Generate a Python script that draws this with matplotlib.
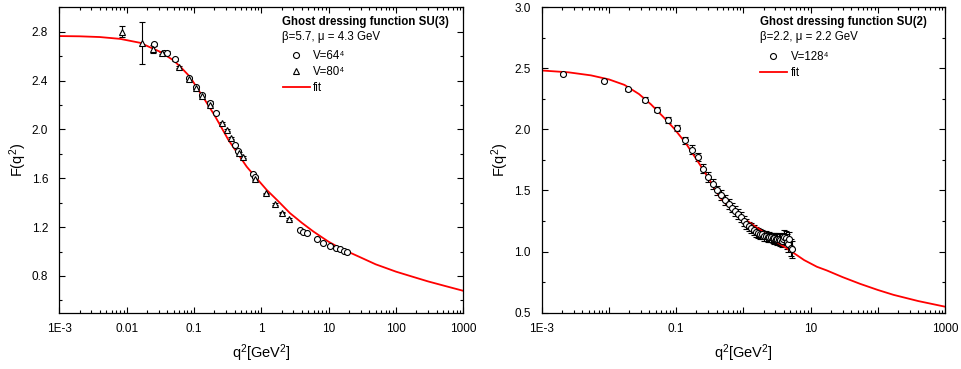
import numpy as np
import matplotlib
matplotlib.use("Agg")
from matplotlib import pyplot as plt
from matplotlib.ticker import FixedLocator, MultipleLocator, LogLocator, NullFormatter

plt.rcParams["font.family"] = ["Liberation Sans", "DejaVu Sans"]
plt.rcParams["mathtext.fontset"] = "custom"
plt.rcParams["mathtext.rm"] = "Liberation Sans"
plt.rcParams["mathtext.default"] = "regular"

# --- SU(3) data ---
su3_v80_q2 = [0.0085, 0.0168, 0.025, 0.034, 0.059, 0.083, 0.107, 0.130, 0.173,
              0.258, 0.306, 0.355, 0.47, 0.53, 0.81, 1.17, 1.6, 2.05, 2.55]
su3_v80_F = [2.80, 2.71, 2.66, 2.625, 2.51, 2.41, 2.34, 2.275, 2.20,
             2.055, 1.995, 1.927, 1.81, 1.772, 1.595, 1.478, 1.39, 1.319, 1.267]
su3_v80_err = [0.045, 0.17, 0.03, 0.01, 0.01, 0.01, 0.01, 0.01, 0.01,
               0.008, 0.008, 0.008, 0.008, 0.008, 0.008, 0.005, 0.005, 0.005, 0.005]

su3_v64_q2 = [0.0255, 0.036, 0.04, 0.052, 0.083, 0.107, 0.13, 0.173, 0.212,
              0.407, 0.45, 0.745, 0.80, 3.76, 4.2, 4.72, 6.65, 8.3, 10.5,
              12.7, 14.8, 16.9, 19.0]
su3_v64_F = [2.697, 2.63, 2.63, 2.574, 2.42, 2.345, 2.28, 2.22, 2.137,
             1.873, 1.82, 1.635, 1.61, 1.18, 1.163, 1.15, 1.10, 1.073, 1.049,
             1.032, 1.019, 1.008, 1.0]
su3_v64_err = [0.012, 0.01, 0.01, 0.01, 0.01, 0.01, 0.01, 0.01, 0.01,
               0.008, 0.008, 0.008, 0.008, 0.004, 0.004, 0.004, 0.004, 0.004, 0.004,
               0.004, 0.004, 0.004, 0.004]

su3_fit_q2 = [0.001, 0.002, 0.004, 0.008, 0.0158, 0.0315, 0.05, 0.065, 0.087, 0.11,
              0.146, 0.2, 0.25, 0.324, 0.45, 0.607, 0.85, 1.2, 1.5, 1.8, 2.67, 3.2,
              4.0, 5.93, 7.5, 10, 14, 20, 30, 50, 70, 100, 180, 300, 550, 1000]
su3_fit_F = [2.765, 2.763, 2.757, 2.742, 2.71, 2.636, 2.565, 2.505, 2.432, 2.345,
             2.24, 2.12, 2.026, 1.915, 1.80, 1.695, 1.60, 1.505, 1.453, 1.41, 1.314, 1.279,
             1.235, 1.164, 1.126, 1.08, 1.035, 0.995, 0.951, 0.895, 0.866, 0.835, 0.792,
             0.755, 0.716, 0.678]

# --- SU(2) data ---
su2_q2 = [0.0021, 0.0084, 0.019, 0.034, 0.052, 0.076, 0.103, 0.134, 0.17, 0.21,
          0.254, 0.302, 0.355, 0.41, 0.47, 0.54, 0.61, 0.68, 0.76, 0.84,
          0.93, 1.02, 1.11, 1.21, 1.31, 1.42, 1.53, 1.65, 1.77, 1.89,
          2.02, 2.15, 2.29, 2.43, 2.57, 2.72, 2.87, 3.03, 3.19, 3.36,
          3.53, 3.70, 3.88, 4.07, 4.25, 4.44, 4.64, 4.84, 5.04, 5.25]
su2_F = [2.452, 2.397, 2.328, 2.245, 2.162, 2.08, 2.012, 1.91, 1.835, 1.773,
         1.68, 1.61, 1.55, 1.50, 1.46, 1.42, 1.39, 1.36, 1.335, 1.31,
         1.28, 1.25, 1.225, 1.205, 1.19, 1.175, 1.16, 1.15, 1.145, 1.14,
         1.13, 1.125, 1.12, 1.12, 1.115, 1.11, 1.11, 1.105, 1.10, 1.10,
         1.095, 1.09, 1.10, 1.12, 1.11, 1.08, 1.06, 1.10, 1.03, 1.02]
su2_err = [0.01, 0.012, 0.015, 0.02, 0.02, 0.025, 0.025, 0.03, 0.035, 0.035,
           0.04, 0.04, 0.04, 0.04, 0.04, 0.04, 0.04, 0.04, 0.04, 0.04,
           0.04, 0.04, 0.04, 0.04, 0.04, 0.04, 0.04, 0.04, 0.04, 0.04,
           0.04, 0.04, 0.04, 0.04, 0.04, 0.04, 0.045, 0.045, 0.045, 0.05,
           0.05, 0.05, 0.05, 0.055, 0.06, 0.06, 0.06, 0.06, 0.07, 0.07]

su2_fit_q2 = [0.001, 0.0025, 0.0054, 0.01, 0.017, 0.028, 0.0423, 0.065, 0.094, 0.14,
              0.209, 0.3, 0.452, 0.7, 1.0, 1.26, 1.77, 3, 4.95, 8, 12.4, 17.4,
              30, 54.6, 100, 171, 400, 1000]
su2_fit_F = [2.483, 2.468, 2.443, 2.41, 2.365, 2.29, 2.205, 2.10, 2.005, 1.885,
             1.74, 1.605, 1.44, 1.335, 1.272, 1.235, 1.178, 1.085, 1.008, 0.93, 0.875, 0.845,
             0.79, 0.735, 0.685, 0.645, 0.594, 0.548]

FS_TICK = 8.5
FS_LAB = 10.5
FS_LEG = 8.3

fig = plt.figure(figsize=(9.61, 3.69), dpi=100)
ax1 = fig.add_axes([0.0617, 0.153, 0.4204, 0.827])
ax2 = fig.add_axes([0.5637, 0.153, 0.4197, 0.827])


def style_axis(ax, yminor, ymajor, ymin_major):
    ax.set_xscale("log")
    ax.set_xlim(1e-3, 1000)
    ax.set_ylim(0.5, 3.0)
    ax.xaxis.set_major_locator(FixedLocator([1e-3, 1e-2, 1e-1, 1, 10, 100, 1000]))
    ax.xaxis.set_minor_locator(LogLocator(base=10, subs=np.arange(2, 10), numticks=20))
    ax.xaxis.set_minor_formatter(NullFormatter())
    ax.yaxis.set_major_locator(FixedLocator(np.arange(ymin_major, 3.01, ymajor)))
    ax.yaxis.set_minor_locator(MultipleLocator(yminor))
    ax.tick_params(which="both", direction="in", top=True, right=True, width=0.8,
                   labelsize=FS_TICK)
    ax.tick_params(axis="y", pad=8)
    ax.tick_params(axis="x", pad=7.5)
    ax.tick_params(which="major", length=4)
    ax.tick_params(which="minor", length=2.2)
    for s in ax.spines.values():
        s.set_linewidth(0.9)
    ax.set_xlabel("q$^2$[GeV$^2$]", fontsize=FS_LAB, labelpad=5)
    ax.set_ylabel("F(q$^2$)", fontsize=FS_LAB, labelpad=2)


eb_kw = dict(color="black", capsize=2.3, elinewidth=0.8, capthick=0.8,
             markersize=4.3, markerfacecolor="white", markeredgecolor="black",
             markeredgewidth=0.8, linestyle="none")
leg_kw = dict(loc="upper left", frameon=False, fontsize=FS_LEG, handlelength=2.35,
              handletextpad=0.3, labelspacing=0.35, borderpad=0, borderaxespad=0)

# --- left panel: SU(3) ---
style_axis(ax1, 0.2, 0.4, 0.8)
ax1.set_xticklabels(["1E-3", "0.01", "0.1", "1", "10", "100", "1000"])
ax1.set_yticklabels(["0.8", "1.2", "1.6", "2.0", "2.4", "2.8"])
h64 = ax1.errorbar(su3_v64_q2, su3_v64_F, yerr=su3_v64_err, marker="o", **eb_kw)
h80 = ax1.errorbar(su3_v80_q2, su3_v80_F, yerr=su3_v80_err, marker="^", **eb_kw)
hfit1, = ax1.plot(su3_fit_q2, su3_fit_F, color="#ff0000", lw=1.3)
ax1.text(0.551, 0.952, "Ghost dressing function SU(3)", transform=ax1.transAxes,
         fontsize=FS_LEG, fontweight="bold", va="center", ha="left")
ax1.text(0.551, 0.903, "\u03b2=5.7, \u03bc = 4.3 GeV", transform=ax1.transAxes,
         fontsize=FS_LEG, va="center", ha="left")
ax1.legend([h64[0], h80[0], hfit1], ["V=64\u2074", "V=80\u2074", "fit"],
           bbox_to_anchor=(0.553, 0.861), **leg_kw)

# --- right panel: SU(2) ---
style_axis(ax2, 0.25, 0.5, 0.5)
ax2.set_xticklabels(["1E-3", "", "0.1", "", "10", "", "1000"])
ax2.set_yticklabels(["0.5", "1.0", "1.5", "2.0", "2.5", "3.0"])
h128 = ax2.errorbar(su2_q2, su2_F, yerr=su2_err, marker="o", **eb_kw)
hfit2, = ax2.plot(su2_fit_q2, su2_fit_F, color="#ff0000", lw=1.3)
ax2.text(0.541, 0.952, "Ghost dressing function SU(2)", transform=ax2.transAxes,
         fontsize=FS_LEG, fontweight="bold", va="center", ha="left")
ax2.text(0.541, 0.903, "\u03b2=2.2, \u03bc = 2.2 GeV", transform=ax2.transAxes,
         fontsize=FS_LEG, va="center", ha="left")
ax2.legend([h128[0], hfit2], ["V=128\u2074", "fit"],
           bbox_to_anchor=(0.541, 0.858), **leg_kw)

fig.savefig("out.png", dpi=100)
